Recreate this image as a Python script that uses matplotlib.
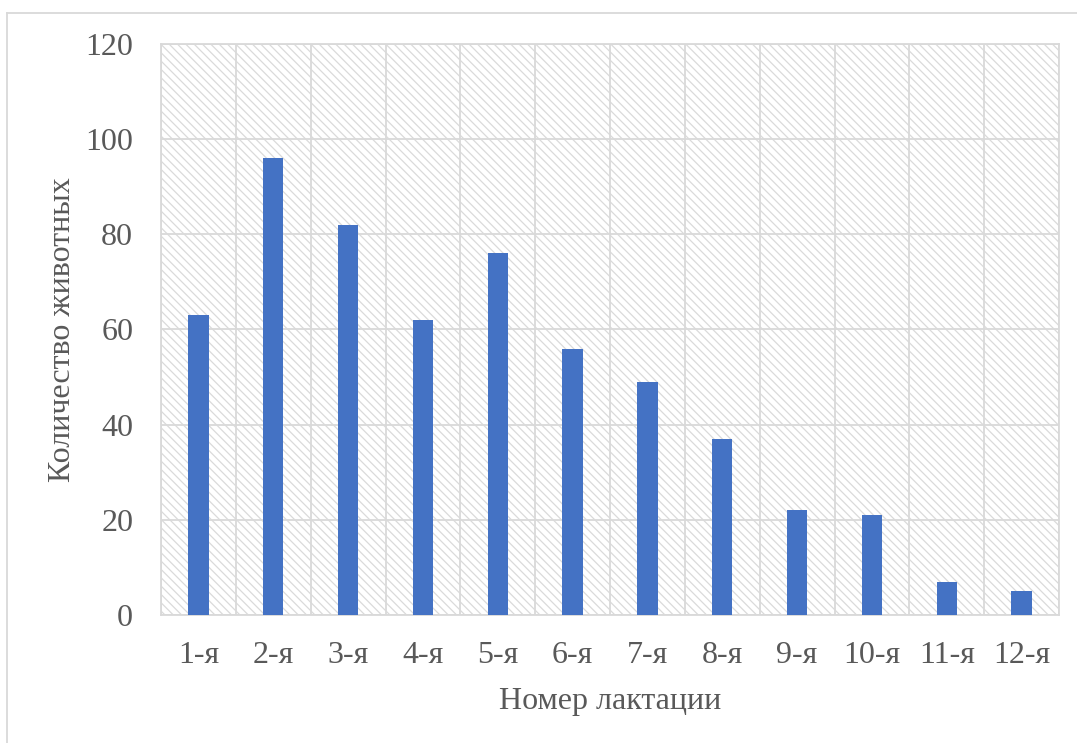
import matplotlib
matplotlib.use("Agg")
import matplotlib.pyplot as plt
from matplotlib.patches import Rectangle
from matplotlib.lines import Line2D

categories = ["1-я", "2-я", "3-я", "4-я", "5-я", "6-я",
              "7-я", "8-я", "9-я", "10-я", "11-я", "12-я"]
counts = [63, 96, 82, 62, 76, 56, 49, 37, 22, 21, 7, 5]
y_ticks = [0, 20, 40, 60, 80, 100, 120]

BAR = "#4472C4"
TEXT = "#595959"
GRID = "#D9D9D9"

plt.rcParams["font.family"] = ["Liberation Serif", "DejaVu Serif"]
plt.rcParams["hatch.color"] = "#DADADA"
plt.rcParams["hatch.linewidth"] = 0.9

fig = plt.figure(figsize=(10.77, 7.43), dpi=100)
ax = fig.add_axes([0.1495, 0.1723, 0.8338, 0.7685])

# hatched plot background
ax.patch.set_facecolor("white")
bg = Rectangle((0, 0), 1, 1, transform=ax.transAxes, facecolor="white",
               edgecolor="#DADADA", linewidth=0, hatch="\\\\\\\\", zorder=0)
ax.add_patch(bg)

x = range(len(categories))
ax.bar(x, counts, width=0.27, color=BAR, zorder=3)

ax.set_xlim(-0.5, len(categories) - 0.5)
ax.set_ylim(0, 120)
ax.set_yticks(y_ticks)
ax.set_xticks(list(x))
ax.set_xticklabels(categories)

# grid: horizontal at value ticks, vertical at category boundaries
for v in y_ticks:
    ax.axhline(v, color=GRID, linewidth=1.3, zorder=1)
for b in range(len(categories) + 1):
    ax.axvline(b - 0.5, color=GRID, linewidth=1.3, zorder=1)

for s in ax.spines.values():
    s.set_color(GRID)
    s.set_linewidth(1.3)

ax.tick_params(axis="both", length=0, labelsize=23, colors=TEXT)
ax.tick_params(axis="y", pad=20)
ax.tick_params(axis="x", pad=19)

ax.set_xlabel("Номер лактации", fontsize=23, color=TEXT, labelpad=12)
ax.set_ylabel("Количество животных", fontsize=23, color=TEXT, labelpad=6)

# outer chart border (top and left edges visible)
fig.add_artist(Line2D([7 / 1077, 7 / 1077], [0, 1 - 13 / 743],
                      transform=fig.transFigure, color=GRID, linewidth=1.3))
fig.add_artist(Line2D([7 / 1077, 1], [1 - 13 / 743, 1 - 13 / 743],
                      transform=fig.transFigure, color=GRID, linewidth=1.3))

fig.savefig("out.png", dpi=100, facecolor="white")
